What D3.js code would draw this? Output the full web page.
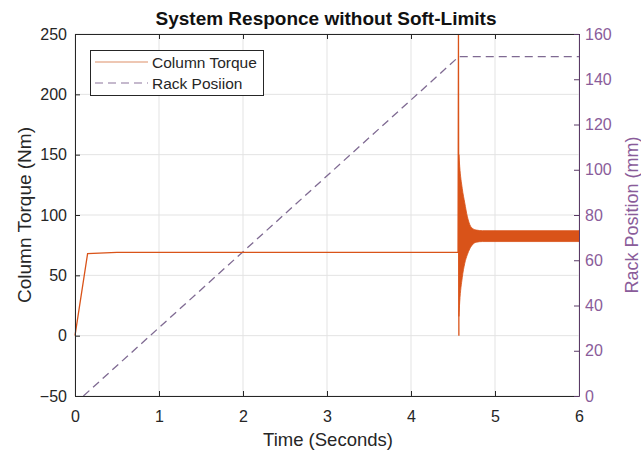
<!DOCTYPE html>
<html><head><meta charset="utf-8">
<script src="https://cdn.jsdelivr.net/npm/d3@7"></script>
<style>body{margin:0;background:#fff}svg{font-family:"Liberation Sans",Arial,sans-serif}</style>
</head><body><svg id="c" width="641" height="453"></svg>
<script>
// ---- data ----
const xTicks = [0,1,2,3,4,5,6];
const yLeftTicks = [-50,0,50,100,150,200,250];
const yRightTicks = [0,20,40,60,80,100,120,140,160];
// Column torque (pre-transient trace)
const torqueT = [0, 0.15, 0.5, 1, 2, 3, 4, 4.56, 4.565, 4.57];
const torqueV = [0, 68, 69, 69, 69, 69, 69, 69, 250, 0];
// oscillation band envelope after transient
const oscT     = [4.57, 4.58, 4.61, 4.64, 4.67, 4.70, 4.74, 4.78, 4.85, 5, 5.5, 6];
const oscUpper = [150, 140, 122, 110, 99, 92, 88.5, 87.5, 87, 87, 87, 87];
const oscLower = [16, 28, 48, 60, 67, 72, 76, 77.5, 78, 78, 78, 78];
// Rack position
const rackT = [0.1, 4.57, 6];
const rackV = [0, 150, 150];

const svg = d3.select("#c");
const L=75, R=579, T=34, B=396;
const x = d3.scaleLinear().domain([0,6]).range([L,R]);
const yL = d3.scaleLinear().domain([-50,250]).range([B,T]);
const yR = d3.scaleLinear().domain([0,160]).range([B,T]);
const purple="#7E2F8E", orange="#D95319";

// grid
const g = svg.append("g");
g.selectAll(".vg").data(xTicks).enter().append("line")
  .attr("x1",d=>x(d)).attr("x2",d=>x(d)).attr("y1",T).attr("y2",B)
  .attr("stroke","#e3e3e3").attr("stroke-width",1);
g.selectAll(".hg").data(yLeftTicks).enter().append("line")
  .attr("x1",L).attr("x2",R).attr("y1",d=>yL(d)).attr("y2",d=>yL(d))
  .attr("stroke","#e3e3e3").attr("stroke-width",1);

// rack
svg.append("path").datum(rackT.map((t,i)=>[t,rackV[i]]))
  .attr("d",d3.line().x(d=>x(d[0])).y(d=>yR(d[1])))
  .attr("fill","none").attr("stroke","#7f6a92").attr("stroke-width",1.3).attr("stroke-dasharray","8,5");

// torque
svg.append("path").datum(torqueT.map((t,i)=>[t,torqueV[i]]))
  .attr("d",d3.line().x(d=>x(d[0])).y(d=>yL(d[1])))
  .attr("fill","none").attr("stroke",orange).attr("stroke-width",1.3);
svg.append("path").datum(oscT.map((t,i)=>[t,oscUpper[i],oscLower[i]]))
  .attr("d",d3.area().curve(d3.curveMonotoneX).x(d=>x(d[0])).y0(d=>yL(d[2])).y1(d=>yL(d[1])))
  .attr("fill",orange).attr("stroke",orange).attr("stroke-width",0.8);

// axes
const fmt = d3.format("d");
const ax = svg.append("g").attr("transform",`translate(0,${B})`)
  .call(d3.axisBottom(x).tickValues(xTicks).tickFormat(fmt).tickSizeInner(-5).tickSizeOuter(0).tickPadding(15));
const axT = svg.append("g").attr("transform",`translate(0,${T})`)
  .call(d3.axisTop(x).tickValues(xTicks).tickSizeInner(-5).tickSizeOuter(0).tickFormat(""));
const ayL = svg.append("g").attr("transform",`translate(${L},0)`)
  .call(d3.axisLeft(yL).tickValues(yLeftTicks).tickFormat(fmt).tickSizeInner(-5).tickSizeOuter(0).tickPadding(8));
const ayR = svg.append("g").attr("transform",`translate(${R},0)`)
  .call(d3.axisRight(yR).tickValues(yRightTicks).tickFormat(fmt).tickSizeInner(-5).tickSizeOuter(0).tickPadding(6));
[ax,axT,ayL].forEach(a=>{a.selectAll("path,line").attr("stroke","#262626");a.selectAll("text").attr("fill","#262626").style("font-size","16px");});
ayR.selectAll("path,line").attr("stroke","#5a3a66");
ayR.selectAll("text").attr("fill","#8a5c9a").style("font-size","16px");
ax.selectAll("text").attr("dy","0.71em");

// title & labels
svg.append("text").attr("x",326).attr("y",25).attr("text-anchor","middle")
  .style("font-size","19px").style("font-weight","bold").attr("fill","#111").text("System Responce without Soft-Limits");
svg.append("text").attr("x",328).attr("y",446).attr("text-anchor","middle")
  .style("font-size","18.5px").attr("fill","#262626").text("Time (Seconds)");
svg.append("text").attr("transform",`translate(31,${(T+B)/2}) rotate(-90)`).attr("text-anchor","middle")
  .style("font-size","19px").attr("fill","#262626").text("Column Torque (Nm)");
svg.append("text").attr("transform",`translate(638,${(T+B)/2}) rotate(-90)`).attr("text-anchor","middle")
  .style("font-size","18px").attr("fill","#8a5c9a").text("Rack Position (mm)");

// legend
const lg = svg.append("g");
lg.append("rect").attr("x",90.5).attr("y",50.5).attr("width",173).attr("height",45)
  .attr("fill","#fff").attr("stroke","#262626").attr("stroke-width",1);
lg.append("line").attr("x1",95).attr("x2",148).attr("y1",62).attr("y2",62).attr("stroke","#e8b59a").attr("stroke-width",1.3);
lg.append("line").attr("x1",95).attr("x2",148).attr("y1",83).attr("y2",83).attr("stroke","#b3a2bd").attr("stroke-width",1.3).attr("stroke-dasharray","8,5");
lg.append("text").attr("x",152).attr("y",68).style("font-size","15.5px").attr("fill","#262626").text("Column Torque");
lg.append("text").attr("x",152).attr("y",89).style("font-size","15.5px").attr("fill","#262626").text("Rack Posiion");
</script></body></html>
